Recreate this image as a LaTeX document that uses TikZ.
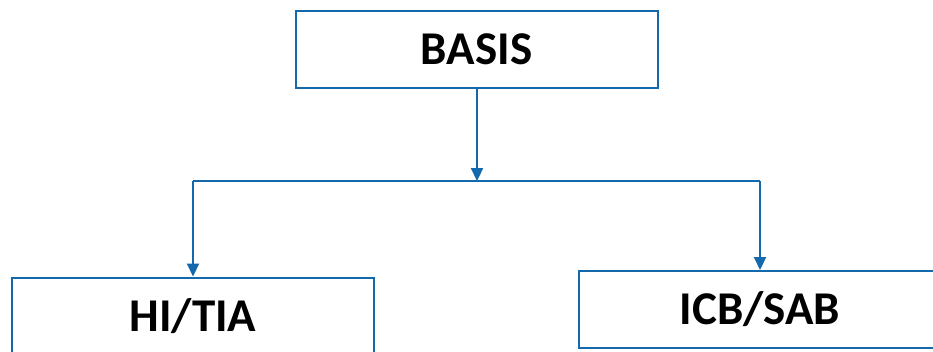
\documentclass[tikz,border=0pt]{standalone}
\usepackage{fontspec}
\setmainfont{Carlito}
\usetikzlibrary{arrows.meta}
\definecolor{lineblue}{RGB}{20,104,172}
\tikzset{
  box/.style={draw=lineblue, line width=2pt, fill=white, minimum width=362pt, minimum height=77pt, inner sep=0pt, font=\fontsize{47}{50}\selectfont\bfseries, text=black},
  conn/.style={draw=lineblue, line width=2.2pt},
  arr/.style={conn, -{Triangle[width=12pt,length=13pt]}}
}
\begin{document}
\begin{tikzpicture}[x=1pt,y=-1pt]
\clip (0,0) rectangle (933,351);
\fill[white] (0,0) rectangle (933,351);
\node[box] (basis) at (476.5,49) {BASIS};
\node[box] (left) at (193,316) {HI/TIA};
\node[box] (right) at (760,309.5) {ICB/SAB};
\coordinate (j) at (477,181);
\draw[arr] (basis.south -| j) -- (j);
\draw[conn, line width=1.5pt] (left.north |- j) -- (right.north |- j);
\draw[arr] (left.north |- j) -- (left.north);
\draw[arr] (right.north |- j) -- (right.north);
\end{tikzpicture}
\end{document}
